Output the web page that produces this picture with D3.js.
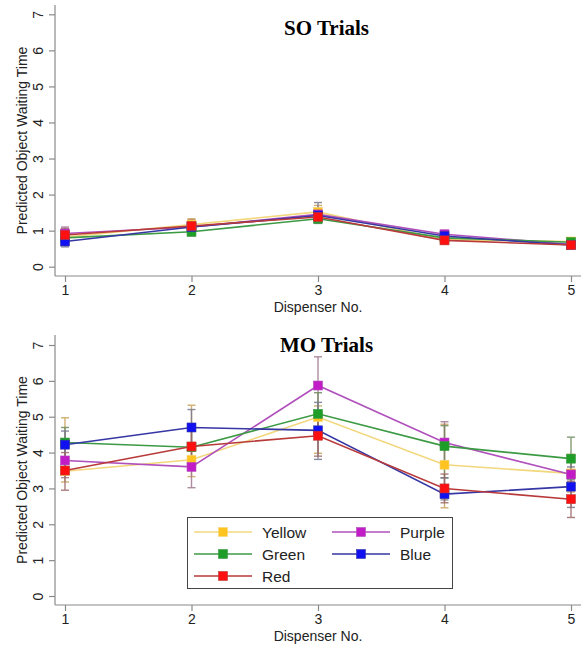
<!DOCTYPE html>
<html>
<head>
<meta charset="utf-8">
<script src="https://cdn.jsdelivr.net/npm/d3@7"></script>
<style>
  body { margin: 0; background: #fff; }
  svg { display: block; font-family: "Liberation Sans", Arial, sans-serif; }
</style>
</head>
<body>
<svg id="chart" width="584" height="645"></svg>
<script>
// data
const dispensers = [1, 2, 3, 4, 5];
const colorNames = ["Yellow", "Green", "Red", "Purple", "Blue"];
const yTicks = [0, 1, 2, 3, 4, 5, 6, 7];

// rows follow colorNames
const soMean = [
  [0.82, 1.17, 1.52, 0.75, 0.70],
  [0.80, 0.97, 1.33, 0.80, 0.68],
  [0.88, 1.13, 1.38, 0.73, 0.60],
  [0.92, 1.10, 1.45, 0.90, 0.62],
  [0.70, 1.10, 1.42, 0.85, 0.60]
];
const soLow = [
  [0.65, 1.00, 1.30, 0.65, 0.62],
  [0.62, 0.85, 1.20, 0.70, 0.60],
  [0.70, 0.97, 1.22, 0.63, 0.53],
  [0.75, 0.95, 1.28, 0.80, 0.55],
  [0.55, 0.93, 1.22, 0.75, 0.53]
];
const soHigh = [
  [1.00, 1.33, 1.70, 0.85, 0.78],
  [0.98, 1.10, 1.47, 0.90, 0.78],
  [1.06, 1.30, 1.55, 0.83, 0.67],
  [1.10, 1.26, 1.62, 1.00, 0.70],
  [0.86, 1.27, 1.78, 0.95, 0.68]
];

const moMean = [
  [3.48, 3.80, 4.99, 3.66, 3.42],
  [4.28, 4.15, 5.08, 4.18, 3.83],
  [3.50, 4.17, 4.47, 3.00, 2.70],
  [3.78, 3.60, 5.87, 4.28, 3.39],
  [4.22, 4.70, 4.62, 2.84, 3.05]
];
const moLow = [
  [3.18, 3.33, 3.98, 2.46, 2.90],
  [3.60, 3.60, 4.50, 3.29, 3.25],
  [2.95, 3.60, 3.90, 2.60, 2.19],
  [3.30, 3.02, 5.10, 3.70, 3.00],
  [3.80, 4.20, 3.81, 2.68, 2.47]
];
const moHigh = [
  [4.97, 5.32, 5.30, 4.79, 3.95],
  [4.70, 4.70, 5.67, 4.75, 4.43],
  [4.00, 4.70, 5.10, 3.40, 3.20],
  [4.30, 4.20, 6.67, 4.86, 3.80],
  [4.60, 5.20, 5.40, 3.30, 3.60]
];

const markerColor = { Yellow: "#ffc41f", Green: "#1e9e28", Red: "#ff1010", Purple: "#c21cc6", Blue: "#1010f0" };
const lineColor   = { Yellow: "#f3d77c", Green: "#3c9a44", Red: "#b83a3a", Purple: "#b050bc", Blue: "#3636a4" };
const errColor    = { Yellow: "#c9a25a", Green: "#6e8a5e", Red: "#9c6868", Purple: "#a07890", Blue: "#787890" };

// stacking order seen in the picture (later = on top)
const drawOrder = ["Yellow", "Purple", "Green", "Blue", "Red"];

const svg = d3.select("#chart");

function drawPanel(opt) {
  const x = d3.scaleLinear().domain([1, 5]).range([65, 571]);
  const y = d3.scaleLinear().domain([0, 7]).range([opt.y0, opt.y7]);
  const g = svg.append("g");

  // axis frame lines
  g.append("line")
    .attr("x1", 55).attr("x2", 55)
    .attr("y1", opt.top).attr("y2", opt.axisY)
    .attr("stroke", "#8a8a8a").attr("stroke-width", 1.2);
  g.append("line")
    .attr("x1", 55).attr("x2", 581)
    .attr("y1", opt.axisY).attr("y2", opt.axisY)
    .attr("stroke", "#8a8a8a").attr("stroke-width", 1.2);

  // y axis
  const ya = g.append("g")
    .attr("transform", "translate(55,0)")
    .call(d3.axisLeft(y).tickValues(yTicks).tickSize(6).tickFormat(d3.format("d")));
  ya.select(".domain").remove();
  ya.selectAll("line").attr("stroke", "#8a8a8a").attr("stroke-width", 1.2);
  ya.selectAll("text")
    .attr("transform", "rotate(-90)")
    .attr("x", 0).attr("y", -12).attr("dy", 0)
    .style("text-anchor", "middle")
    .style("font-size", "14px")
    .attr("fill", "#222");

  // x axis
  const xa = g.append("g")
    .attr("transform", `translate(0,${opt.axisY})`)
    .call(d3.axisBottom(x).tickValues(dispensers).tickSize(6).tickPadding(3).tickFormat(d3.format("d")));
  xa.select(".domain").remove();
  xa.selectAll("line").attr("stroke", "#8a8a8a").attr("stroke-width", 1.2);
  xa.selectAll("text").style("font-size", "14px").attr("fill", "#222");

  g.append("text")
    .attr("x", 318).attr("y", opt.xTitleY)
    .attr("text-anchor", "middle")
    .style("font-size", "14px").attr("fill", "#222")
    .text("Dispenser No.");

  g.append("text")
    .attr("transform", `translate(27,${(opt.top + opt.axisY) / 2}) rotate(-90)`)
    .attr("text-anchor", "middle")
    .style("font-size", "14px").attr("fill", "#222")
    .text("Predicted Object Waiting Time");

  g.append("text")
    .attr("x", 326.5).attr("y", opt.titleY)
    .attr("text-anchor", "middle")
    .style("font-family", "'Liberation Serif', 'Times New Roman', serif")
    .style("font-weight", "bold")
    .style("font-size", "21px")
    .attr("fill", "#000")
    .text(opt.title);

  const series = colorNames.map((name, i) => ({
    name,
    pts: dispensers.map((d, j) => ({ d, m: opt.mean[i][j], lo: opt.low[i][j], hi: opt.high[i][j] }))
  }));
  const ordered = drawOrder.map(n => series.find(s => s.name === n));

  // error bars
  ordered.forEach(s => {
    const eb = g.append("g").attr("stroke", errColor[s.name]).attr("stroke-width", 1.4).attr("opacity", 0.85);
    eb.selectAll(".v").data(s.pts).enter().append("line")
      .attr("x1", p => x(p.d)).attr("x2", p => x(p.d))
      .attr("y1", p => y(p.lo)).attr("y2", p => y(p.hi));
    eb.selectAll(".ct").data(s.pts).enter().append("line")
      .attr("x1", p => x(p.d) - 4).attr("x2", p => x(p.d) + 4)
      .attr("y1", p => y(p.hi)).attr("y2", p => y(p.hi));
    eb.selectAll(".cb").data(s.pts).enter().append("line")
      .attr("x1", p => x(p.d) - 4).attr("x2", p => x(p.d) + 4)
      .attr("y1", p => y(p.lo)).attr("y2", p => y(p.lo));
  });

  const line = d3.line().x(p => x(p.d)).y(p => y(p.m));
  ordered.forEach(s => {
    g.append("path")
      .datum(s.pts)
      .attr("d", line)
      .attr("fill", "none")
      .attr("stroke", lineColor[s.name])
      .attr("stroke-width", 1.6);
    g.selectAll(null).data(s.pts).enter().append("rect")
      .attr("x", p => x(p.d) - 4.5).attr("y", p => y(p.m) - 4.5)
      .attr("width", 9).attr("height", 9)
      .attr("fill", markerColor[s.name])
      .attr("stroke", lineColor[s.name]).attr("stroke-width", 0.6);
  });
  return g;
}

drawPanel({ title: "SO Trials", mean: soMean, low: soLow, high: soHigh,
  top: 5, axisY: 276, y0: 266.7, y7: 14.3, titleY: 35, xTitleY: 312 });

const mo = drawPanel({ title: "MO Trials", mean: moMean, low: moLow, high: moHigh,
  top: 335, axisY: 605, y0: 596, y7: 345, titleY: 352, xTitleY: 641 });

// legend
const legend = mo.append("g");
legend.append("rect")
  .attr("x", 187.5).attr("y", 517.5).attr("width", 265).attr("height", 71)
  .attr("fill", "#fff").attr("stroke", "#444").attr("stroke-width", 1);

const legendCols = [["Yellow", "Green", "Red"], ["Purple", "Blue"]];
const colX = [194, 332];
const rowY = [532, 554, 576];
legendCols.forEach((col, ci) => {
  col.forEach((name, ri) => {
    const lx = colX[ci], ly = rowY[ri];
    legend.append("line")
      .attr("x1", lx).attr("x2", lx + 58).attr("y1", ly).attr("y2", ly)
      .attr("stroke", lineColor[name]).attr("stroke-width", 1.6);
    legend.append("rect")
      .attr("x", lx + 29 - 4.5).attr("y", ly - 4.5).attr("width", 9).attr("height", 9)
      .attr("fill", markerColor[name]).attr("stroke", lineColor[name]).attr("stroke-width", 0.6);
    legend.append("text")
      .attr("x", lx + 68).attr("y", ly + 5.5)
      .style("font-size", "15.5px").attr("fill", "#222")
      .text(name);
  });
});
</script>
</body>
</html>
